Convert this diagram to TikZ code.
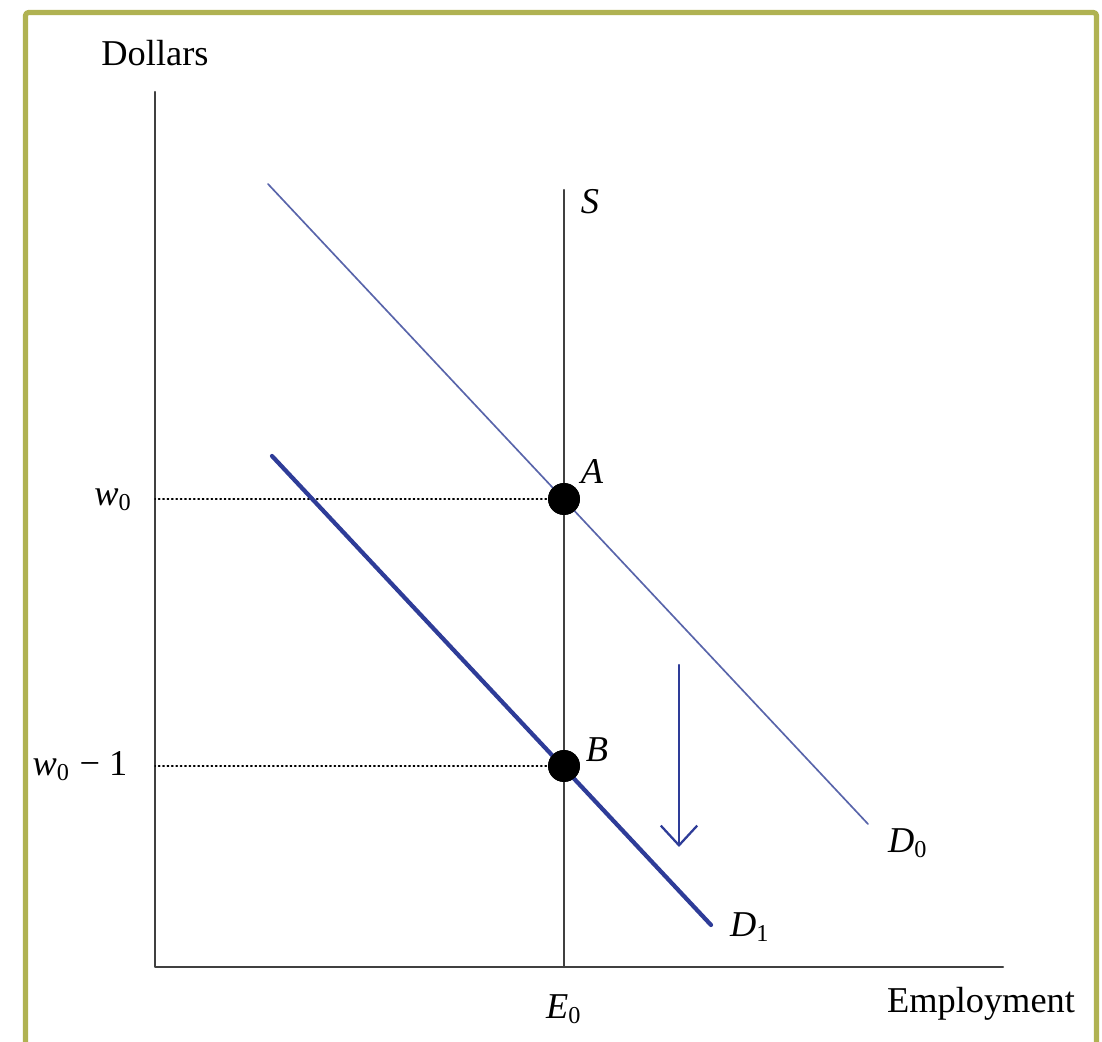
\documentclass[tikz,border=0pt]{standalone}
\usepackage{fontspec}
\setmainfont{Liberation Serif}
\usetikzlibrary{arrows.meta}
\definecolor{frameol}{RGB}{176,178,82}
\definecolor{dcurve}{RGB}{88,100,170}
\definecolor{dshift}{RGB}{46,60,152}

\begin{document}
\begin{tikzpicture}[x=1.16cm,y=1.16cm,>={Straight Barb[length=6.5pt,width=12pt]},line cap=round,line join=round,font=\fontsize{12}{14}\selectfont]
  \tikzset{axis/.style={line width=0.7pt,draw=black!75},
    demand/.style={draw=dcurve,line width=0.55pt},
    shifted/.style={draw=dshift,line width=1.4pt},
    guide/.style={densely dotted,line width=0.45pt},
    dot/.style={circle,fill=black,inner sep=0pt,minimum size=0.37cm},
    lab/.style={inner sep=1pt}}

  \path[use as bounding box] (0,0) rectangle (11.02,10.42);

  % frame round the figure
  \draw[draw=frameol,line width=1.7pt,line cap=butt,rounded corners=1pt]
    (0.255,-0.3) -- (0.255,10.295) -- (10.965,10.295) -- (10.965,-0.3);

  \coordinate (O) at (1.55,0.75);
  \coordinate (ytop) at (1.55,9.50);
  \coordinate (xend) at (10.03,0.75);
  \coordinate (stop) at (5.64,8.52);
  \coordinate (d0a) at (2.68,8.58);
  \coordinate (d0b) at (8.68,2.18);
  \coordinate (d1a) at (2.72,5.86);
  \coordinate (d1b) at (7.11,1.17);
  \coordinate (sfrom) at (6.79,3.77);
  \coordinate (sto) at (6.79,1.95);

  \draw[axis] (ytop) -- (O) -- (xend);
  \draw[axis] (stop) -- (stop |- O);

  \node[dot] (A) at (5.64,5.43) {};
  \node[dot] (B) at (5.64,2.76) {};

  \draw[guide] (A.center) -- (A.center -| O);
  \draw[guide] (B.center) -- (B.center -| O);

  \draw[demand] (d0a) -- (d0b);
  \draw[shifted] (d1a) -- (d1b);
  \draw[->,draw=dshift,line width=0.75pt] (sfrom) -- (sto);

  \node[dot] at (A) {};
  \node[dot] at (B) {};

  \node[lab] (dollars) at (1.55,9.89) {Dollars};
  \node[lab] (employ) at (9.81,0.38) {Employment};
  \node[lab] (elab) at (5.64,0.33) {\textit{E}\textsubscript{0}};
  \node[lab,anchor=east] (wlab) at (1.36,5.42) {\textit{w}\textsubscript{0}};
  \node[lab,anchor=east] (wlabb) at (1.31,2.76) {\textit{w}\textsubscript{0} − 1};
  \node[lab] (alab) at (5.92,5.70) {\textit{A}};
  \node[lab] (blab) at (5.97,2.92) {\textit{B}};
  \node[lab] (slab) at (5.90,8.40) {\textit{S}};
  \node[lab] (d0lab) at (9.08,1.99) {\textit{D}\textsubscript{0}};
  \node[lab] (d1lab) at (7.50,1.15) {\textit{D}\textsubscript{1}};
\end{tikzpicture}
\end{document}
